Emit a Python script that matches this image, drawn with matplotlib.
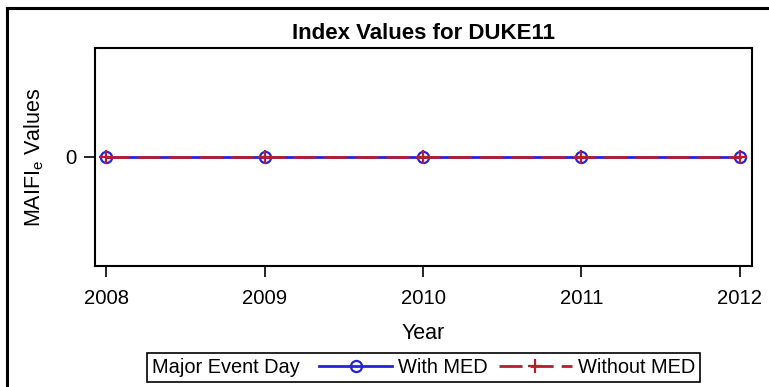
import matplotlib
matplotlib.use("Agg")
import matplotlib.pyplot as plt
from matplotlib.lines import Line2D
from matplotlib.offsetbox import HPacker

plt.rcParams['font.family'] = ['Liberation Sans', 'DejaVu Sans']
plt.rcParams['mathtext.fontset'] = 'custom'
plt.rcParams['mathtext.rm'] = 'Liberation Sans'

years = [2008, 2009, 2010, 2011, 2012]
with_med = [0, 0, 0, 0, 0]
without_med = [0, 0, 0, 0, 0]

blue = '#2323DC'
red = '#B61E2E'

fig = plt.figure(figsize=(7.69, 3.87), dpi=100)
ax = fig.add_axes([0.1235, 0.3127, 0.8544, 0.5633])

ax.plot(years, with_med, color=blue, lw=2, marker='o', ms=8,
        mfc='none', mec=blue, mew=1.6, label='With MED')
ax.plot(years, without_med, color=red, lw=2, ls=(0, (8.3, 2.9)),
        marker='+', ms=10, mec=red, mew=1.6, label='Without MED')

ax.set_xlim(2007.93, 2012.076)
ax.set_ylim(-1, 1)
ax.set_xticks(years)
ax.set_yticks([0])
ax.tick_params(labelsize=14.6, length=8, width=1.2)
ax.tick_params(axis='x', pad=8.5)
ax.tick_params(axis='y', pad=5)

for sp in ax.spines.values():
    sp.set_linewidth(1.5)

ax.set_title('Index Values for DUKE11', fontsize=16, fontweight='bold', pad=6.5)
ax.set_xlabel('Year', fontsize=15.5, labelpad=11)
ax.set_ylabel(r'MAIFI$_{\mathregular{e}}$ Values', fontsize=15.5, labelpad=14)

# legend with its title placed on the left of the entries
fs = 14.4
leg = fig.legend(loc='lower center', bbox_to_anchor=(0.5507, 0.0137),
                 ncol=2, title='Major Event Day', fontsize=fs,
                 title_fontsize=fs, frameon=True, fancybox=False,
                 edgecolor='black', framealpha=1, borderaxespad=0,
                 borderpad=0.25, handlelength=3.65, handletextpad=0.3,
                 columnspacing=0.55)
leg.get_frame().set_linewidth(1.2)
box = HPacker(pad=0.25 * fs, sep=14, align='center',
              children=[leg._legend_title_box, leg._legend_handle_box])
box.set_figure(fig)
leg._legend_box = box
leg._legend_box.set_offset(leg._findoffset)

# outer frame edges
fig.add_artist(Line2D([7 / 769, 7 / 769], [0, 1 - 7.5 / 387],
                      color='black', lw=2.2, transform=fig.transFigure))
fig.add_artist(Line2D([7 / 769, 1], [1 - 7.5 / 387, 1 - 7.5 / 387],
                      color='black', lw=2.2, transform=fig.transFigure))

fig.savefig('out.png', dpi=100)
